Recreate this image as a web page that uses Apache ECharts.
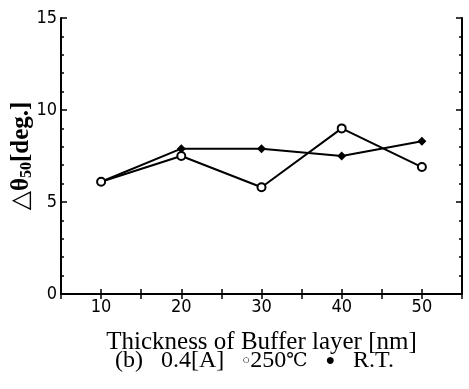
<!DOCTYPE html>
<html>
<head>
<meta charset="utf-8">
<script src="https://cdn.jsdelivr.net/npm/echarts@6/dist/echarts.min.js"></script>
<style>
  html, body { margin: 0; padding: 0; background: #fff; }
  #chart { width: 469px; height: 389px; }
</style>
</head>
<body>
<div id="chart"></div>
<script>
// buffer layer thickness [nm]
const thickness = [10, 20, 30, 40, 50];
// delta theta50 [deg.]
const temp250 = [6.1, 7.5, 5.8, 9.0, 6.9];
const roomTemp = [6.1, 7.9, 7.9, 7.5, 8.3];
const yTicks = [0, 5, 10, 15];

const chart = echarts.init(document.getElementById('chart'));
const serif = '"Liberation Serif", "DejaVu Serif", serif';
const tickFont = '"Liberation Sans Narrow", "DejaVu Sans Condensed", sans-serif';

const xBase = {
  type: 'value',
  min: 5,
  max: 55,
  interval: 5,
  splitLine: { show: false },
  axisLine: { lineStyle: { color: '#000', width: 2 } },
  axisTick: { inside: true, length: 5, lineStyle: { color: '#000', width: 1.5 } }
};
const yBase = {
  type: 'value',
  min: 0,
  max: 15,
  interval: 5,
  splitLine: { show: false },
  axisLine: { show: true, lineStyle: { color: '#000', width: 2 } },
  axisTick: { inside: true, length: 6, lineStyle: { color: '#000', width: 1.5 } },
  minorTick: { show: true, splitNumber: 5, length: 3, lineStyle: { color: '#000', width: 1.5 } }
};

chart.setOption({
  animation: false,
  grid: { left: 61, right: 7, top: 18, bottom: 95, outerBoundsMode: 'none' },
  xAxis: [
    {
      ...xBase,
      position: 'bottom',
      name: 'Thickness of Buffer layer [nm]',
      nameLocation: 'middle',
      nameGap: 36,
      nameMoveOverlap: false,
      nameTextStyle: { fontFamily: serif, fontSize: 25, color: '#000' },
      axisLabel: {
        color: '#000', fontFamily: tickFont, fontSize: 18, margin: 4,
        formatter: v => thickness.includes(v) ? String(v) : ''
      }
    },
    { ...xBase, position: 'top', axisLabel: { show: false } }
  ],
  yAxis: [
    {
      ...yBase,
      position: 'left',
      name: '{n|△θ}{s|50}{n|[deg.]}',
      nameLocation: 'middle',
      nameGap: 26,
      nameMoveOverlap: false,
      nameRotate: 90,
      nameTextStyle: {
        rich: {
          n: { fontFamily: serif, fontSize: 25, fontWeight: 'bold', color: '#000' },
          s: { fontFamily: serif, fontSize: 16, fontWeight: 'bold', color: '#000', padding: [10, 0, 0, 0] }
        }
      },
      axisLabel: {
        color: '#000', fontFamily: tickFont, fontSize: 18, margin: 4,
        formatter: v => yTicks.includes(v) ? String(v) : ''
      }
    },
    { ...yBase, position: 'right', axisLabel: { show: false } }
  ],
  graphic: [
    {
      type: 'text',
      left: 115,
      top: 349,
      style: {
        text: '{t|(b)   0.4[A]   }{o|○}{t|250}{c|℃}{t|   }{d|●}{t|   R.T.}',
        rich: {
          t: { fontFamily: serif, fontSize: 24, fill: '#000' },
          o: { fontFamily: serif, fontSize: 13, fill: '#000' },
          c: { fontFamily: serif, fontSize: 19, fill: '#000' },
          d: { fontFamily: serif, fontSize: 16, fill: '#000' }
        }
      }
    }
  ],
  series: [
    {
      name: 'R.T.',
      type: 'line',
      data: thickness.map((t, i) => [t, roomTemp[i]]),
      symbol: 'diamond',
      symbolSize: 9,
      itemStyle: { color: '#000' }
    },
    {
      name: '250℃',
      type: 'line',
      data: thickness.map((t, i) => [t, temp250[i]]),
      symbol: 'emptyCircle',
      symbolSize: 8,
      itemStyle: { color: '#000', borderWidth: 1.5 }
    }
  ].map(s => ({ ...s, lineStyle: { color: '#000', width: 2 } }))
});
</script>
</body>
</html>
